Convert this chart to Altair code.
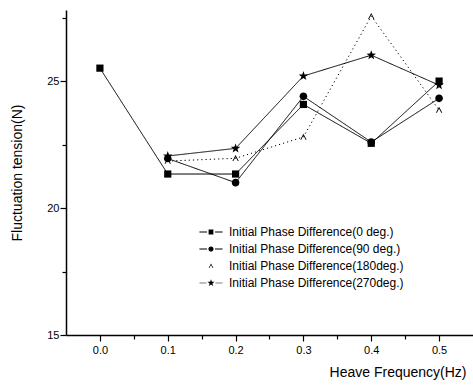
import math
import altair as alt
import pandas as pd

# ---- data ----
freq = [0.0, 0.1, 0.2, 0.3, 0.4, 0.5]
series_names = [
    "Initial Phase Difference(0 deg.)",
    "Initial Phase Difference(90 deg.)",
    "Initial Phase Difference(180deg.)",
    "Initial Phase Difference(270deg.)",
]
t0 = [25.51, 21.34, 21.34, 24.08, 22.55, 25.0]
t90 = [None, 21.95, 21.0, 24.4, 22.6, 24.32]
t180 = [None, 21.85, 21.96, 22.8, 27.56, 23.86]
t270 = [None, 22.05, 22.35, 25.2, 26.02, 24.84]
y_major = [15, 20, 25]
y_minor = [17.5, 22.5, 27.5]
x_major = [0.0, 0.1, 0.2, 0.3, 0.4, 0.5]
x_minor = [0.05, 0.15, 0.25, 0.35, 0.45]

rows = []
for name, vals in zip(series_names, [t0, t90, t180, t270]):
    for i, (f, v) in enumerate(zip(freq, vals)):
        if v is not None:
            rows.append({"freq": f, "tension": v, "series": name, "order": i})
df = pd.DataFrame(rows)

FONT = "Liberation Sans"


def star_path(R, r, cx=0.0):
    pts = []
    for k in range(10):
        ang = math.radians(-90 + k * 36)
        rad = R if k % 2 == 0 else r
        pts.append((cx + rad * math.cos(ang), rad * math.sin(ang)))
    return "M" + "L".join(f"{x:.3f},{y:.3f}" for x, y in pts) + "Z"


def circle_path(R):
    return f"M{R},0A{R},{R} 0 1,1 {-R},0A{R},{R} 0 1,1 {R},0Z"


def dashes(a, b, t):
    return (f"M{-b},{-t}H{-a}V{t}H{-b}Z"
            f"M{a},{-t}H{b}V{t}H{a}Z")


caret_plot = "M-0.8,0.7L0,-0.8L0.8,0.7L0.55,0.7L0,-0.35L-0.55,0.7Z"
plot_shapes = [
    "M-0.9,-0.9H0.9V0.9H-0.9Z",
    circle_path(0.95),
    caret_plot,
    star_path(1.25, 0.5),
]

legend_shapes = [
    "M-0.6,-0.6H0.6V0.6H-0.6Z" + dashes(1.0, 2.9, 0.12),
    circle_path(0.65) + dashes(1.0, 2.9, 0.14),
    "M-0.6,0.5L0,-0.6L0.6,0.5L0.42,0.5L0,-0.25L-0.42,0.5Z",
    star_path(0.95, 0.38) + dashes(1.1, 2.9, 0.09),
]

x_scale = alt.Scale(domain=[-0.05, 0.55], nice=False, zero=False)
y_scale = alt.Scale(domain=[15, 27.8], nice=False, zero=False)

# main axes (major ticks + labels)
x_main = alt.X(
    "freq:Q",
    scale=x_scale,
    axis=alt.Axis(
        orient="bottom",
        offset=0,
        title="Heave Frequency(Hz)",
        values=x_major,
        format=".1f",
        tickSize=6,
        grid=False,
        titleX=400,
        titleAlign="right",
        titleAnchor="end",
        titlePadding=10,
        labelPadding=3,
    ),
)
y_main = alt.Y(
    "tension:Q",
    scale=y_scale,
    axis=alt.Axis(
        orient="left",
        offset=0,
        title="Fluctuation tension(N)",
        values=y_major,
        format="d",
        tickSize=6,
        grid=False,
        titlePadding=22,
        labelPadding=1,
    ),
)

# minor tick axes (overlapping the main ones)
x_min = alt.X(
    "freq:Q",
    scale=x_scale,
    axis=alt.Axis(orient="bottom", offset=0, title=None, values=x_minor, tickSize=4,
                  labels=False, domain=False, grid=False),
)
y_min = alt.Y(
    "tension:Q",
    scale=y_scale,
    axis=alt.Axis(orient="left", offset=0, title=None, values=y_minor, tickSize=4,
                  labels=False, domain=False, grid=False),
)

lines = alt.Chart(df).mark_line(color="black", strokeWidth=1).encode(
    x=x_min,
    y=y_min,
    detail="series:N",
    order="order:Q",
    strokeDash=alt.StrokeDash(
        "series:N",
        scale=alt.Scale(domain=series_names, range=[[1, 0], [1, 0], [1.2, 3], [1, 0]]),
        legend=None,
    ),
)

points = alt.Chart(df).mark_point(filled=True, color="black", opacity=1, size=64, strokeWidth=0).encode(
    x=x_main,
    y=y_main,
    shape=alt.Shape(
        "series:N",
        scale=alt.Scale(domain=series_names, range=plot_shapes),
        legend=None,
    ),
)

legend_layer = alt.Chart(df).transform_filter("false").mark_point(
    filled=True, color="black", opacity=1, size=64, strokeWidth=0
).encode(
    x=alt.X("freq:Q", scale=x_scale, axis=None),
    y=alt.Y("tension:Q", scale=y_scale, axis=None),
    shape=alt.Shape(
        "legend_series:N",
        scale=alt.Scale(domain=series_names, range=legend_shapes),
        legend=alt.Legend(
            title=None,
            orient="none",
            legendX=139,
            legendY=216,
            symbolSize=64,
            symbolFillColor="black",
            symbolOpacity=1,
            symbolStrokeWidth=0,
            labelOffset=12,
            labelFontSize=12,
            labelFont=FONT,
            labelColor="black",
            rowPadding=5,
            padding=0,
            labelLimit=400,
        ),
    ),
)

chart = (
    alt.layer(lines, points, legend_layer)
    .resolve_scale(shape="independent")
    .resolve_axis(x="independent", y="independent")
    .properties(
        width=407,
        height=325,
        padding={"left": 66, "top": 10, "right": 0, "bottom": 50},
        autosize=alt.AutoSizeParams(type="none"),
        background="white",
    )
    .configure_view(stroke=None)
    .configure_axis(
        domainColor="black",
        domainWidth=1.5,
        tickColor="black",
        tickWidth=1.2,
        labelFont=FONT,
        labelFontSize=11,
        labelColor="black",
        titleFont=FONT,
        titleFontSize=14,
        titleFontWeight="normal",
        titleColor="black",
    )
)

chart.save("out.html", embed_options={"renderer": "svg", "actions": False})
